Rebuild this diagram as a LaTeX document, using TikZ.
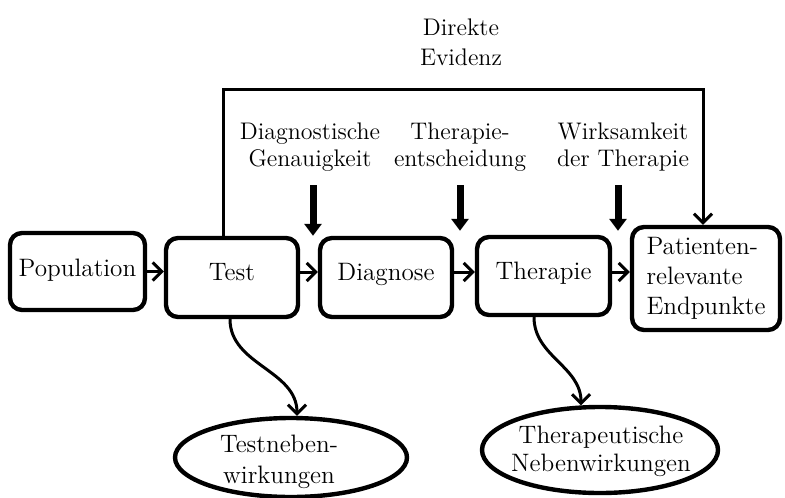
\documentclass[tikz,border=0pt]{standalone}
\usetikzlibrary{arrows.meta,shapes.geometric,calc}
\begin{document}
\begin{tikzpicture}[x=0.5pt,y=-0.5pt,
  every node/.style={font=\fontsize{12.6}{14}\selectfont},
  box/.style={draw,line width=2.2pt,rounded corners=6pt,inner sep=0pt},
  textup/.style={text height=6pt,text depth=3pt},
  arr/.style={line width=1.5pt,-{Straight Barb[length=4.5pt,width=9pt]}},
  bigarr/.style={line width=3.5pt,-{Triangle[length=6pt,width=8.5pt]}},
  oval/.style={draw,ellipse,line width=2.2pt,inner sep=0pt},
  lbl/.style={align=center,font=\fontsize{12}{13.5}\selectfont}]
\useasboundingbox (0,0) rectangle (785,497);

% main boxes
\node[box,text height=7pt,text depth=2.5pt,minimum width=67.5pt,minimum height=38.5pt] (pop) at (77.5,271.5) {Population};
\node[box,textup,minimum width=66pt,minimum height=39.5pt] (test) at (232,277.5) {Test};
\node[box,textup,minimum width=66pt,minimum height=39.5pt] (diag) at (386,277.5) {Diagnose};
\node[box,textup,minimum width=66.5pt,minimum height=39pt] (ther) at (543.5,276) {Therapie};
\node[box,minimum width=74pt,minimum height=51.5pt,align=left,
      font=\fontsize{12.6}{15}\selectfont] (pat) at (706,278.5) {Patienten-\\relevante\\Endpunkte};

% horizontal arrows
\draw[arr] (pop.east) -- (pop.east -| test.west);
\draw[arr] ([yshift=2.75pt]test.east) -- ([yshift=2.75pt]test.east -| diag.west);
\draw[arr] ([yshift=2.75pt]diag.east) -- ([yshift=2.75pt]diag.east -| ther.west);
\draw[arr] ([yshift=2pt]ther.east) -- ([yshift=2pt]ther.east -| pat.west);

% direct evidence
\node[lbl,font=\fontsize{12}{15}\selectfont] (ev) at (461,42) {Direkte\\Evidenz};
\coordinate (tr) at (703,90);
\draw[arr] ([xshift=-4.5pt]test.north) |- (tr) -- (tr |- pat.north);

% labels with thick arrows
\node[lbl] (l1) at (310,147) {Diagnostische\\Genauigkeit};
\node[lbl] (l2) at (460,147) {Therapie-\\entscheidung};
\node[lbl] (l3) at (623,147) {Wirksamkeit\\der Therapie};
\coordinate (a1) at (313,185);
\coordinate (a2) at (460,185);
\coordinate (a3) at (618,185);
\draw[bigarr] (a1) -- (a1 |- diag.north);
\draw[bigarr] (a2) -- ([yshift=2pt]a2 |- ther.north);
\draw[bigarr] (a3) -- ([yshift=2pt]a3 |- ther.north);

% side effects
\node[oval,minimum width=116pt,minimum height=39.5pt] (tneb) at (291,457.5) {};
\node[align=center,font=\fontsize{12.6}{15.5}\selectfont] (tnebt) at (279,462) {Testneben-\\wirkungen};
\node[oval,minimum width=118pt,minimum height=43pt] (thneb) at (600,450) {};
\node[align=center] (thnebt) at (601,451) {Therapeutische\\Nebenwirkungen};

\draw[arr] ([xshift=-1pt]test.south) to[out=-90,in=90] ([xshift=3pt]tneb.north);
\draw[arr] ([xshift=-4.75pt]ther.south) to[out=-90,in=90] (thneb.113);
\end{tikzpicture}
\end{document}
